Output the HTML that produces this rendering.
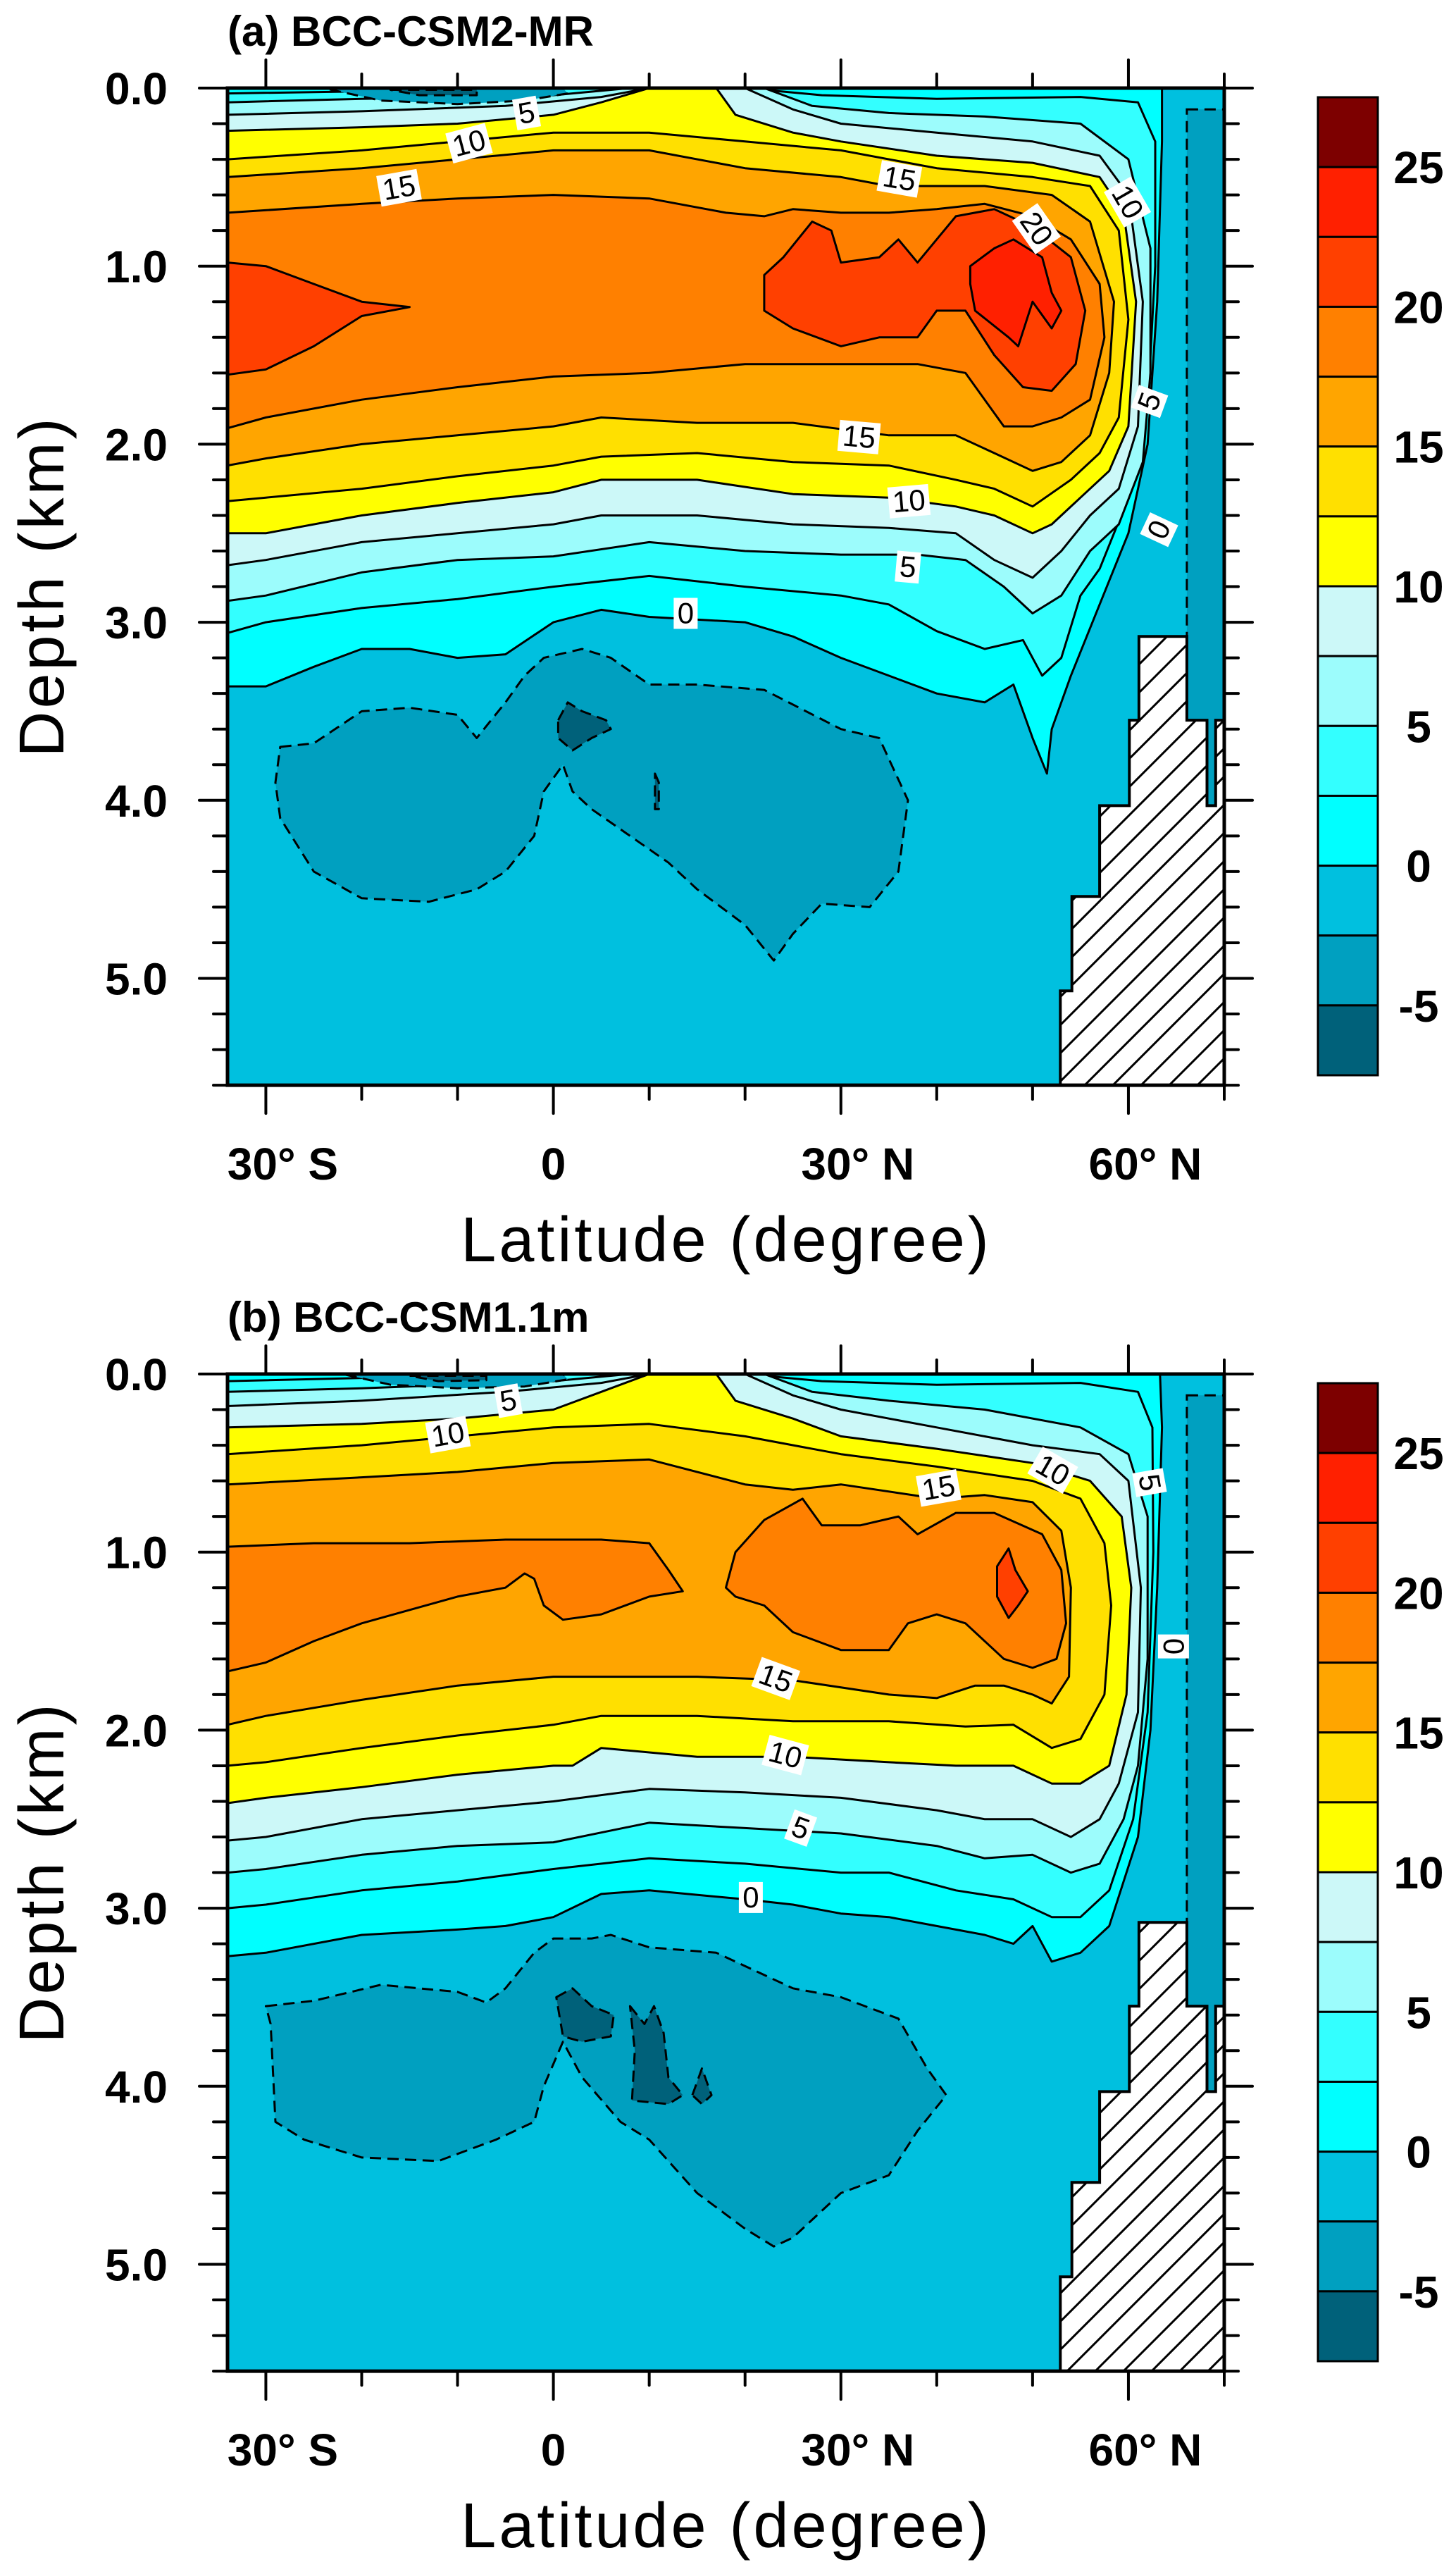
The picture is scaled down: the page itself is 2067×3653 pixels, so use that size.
<!DOCTYPE html>
<html><head><meta charset="utf-8">
<style>
html,body{margin:0;padding:0;background:#fff;}
svg{display:block;}
text{font-family:"Liberation Sans",sans-serif;}
</style></head>
<body>
<svg id="fig" width="2067" height="3653" viewBox="0 0 2067 3653" xmlns="http://www.w3.org/2000/svg">
<defs>
<pattern id="hatch" patternUnits="userSpaceOnUse" width="40" height="40" patternTransform="rotate(0)">
<rect width="40" height="40" fill="#fff"/>
<path d="M-10,10 L10,-10 M0,40 L40,0 M30,50 L50,30" stroke="#000" stroke-width="3"/>
</pattern>
</defs>
</svg>
<script>
// ---------- data ----------
const levels = [-7.5,-5,-2.5,0,2.5,5,7.5,10,12.5,15,17.5,20,22.5,25];
const colors = ["#00617a","#00a0c0","#00c0df","#00ffff","#33ffff","#9cfcfc","#ccf8f8","#ffff00","#ffe000","#ffa500","#ff8000","#ff4000","#ff2000","#7d0000"];
const cbLabels = [25,20,15,10,5,0,-5];
const depthTicks = [0,1,2,3,4,5];
const depthLabels = ["0.0","1.0","2.0","3.0","4.0","5.0"];
const latTicks = [-30,0,30,60];
const latLabels = ["30° S","0","30° N","60° N"];

// panel (a) contour regions: [lat, depth km]
const a0 = [[-34,0],[63.5,0],[63.5,0.3],[63,1.2],[62,2.0],[60,2.5],[57,2.9],[54,3.3],[52,3.6],[51.5,3.85],[50,3.65],[48,3.35],[45,3.45],[40,3.4],[35,3.3],[30,3.2],[25,3.08],[20,3.0],[10,2.97],[5,2.93],[0,3.0],[-5,3.18],[-10,3.2],[-15,3.15],[-20,3.15],[-25,3.25],[-30,3.36],[-34,3.36]];
const a25 = [[-34,0.03],[-10,0.01],[0,0],[20,0],[28,0.04],[40,0.06],[55,0.05],[61,0.08],[62.8,0.3],[62.8,1.0],[62,1.8],[60,2.3],[57,2.7],[55,2.85],[53,3.2],[51,3.3],[49,3.1],[45,3.15],[40,3.05],[35,2.9],[30,2.85],[20,2.8],[10,2.74],[0,2.8],[-10,2.87],[-20,2.92],[-30,3.0],[-34,3.06]];
const a5 = [[-34,0.08],[-20,0.06],[-5,0.05],[0,0.04],[8,0],[22,0],[27,0.1],[35,0.14],[45,0.16],[55,0.2],[60,0.4],[62.3,0.9],[62.3,1.6],[61.5,2.1],[59,2.45],[56,2.6],[53,2.85],[50,2.95],[47,2.8],[43,2.65],[38,2.62],[30,2.62],[20,2.6],[10,2.55],[0,2.63],[-10,2.65],[-20,2.72],[-30,2.85],[-34,2.88]];
const a75 = [[-34,0.15],[-20,0.13],[-5,0.1],[5,0.05],[10,0],[20,0],[25,0.12],[30,0.2],[40,0.25],[50,0.3],[57,0.38],[60,0.6],[61.5,1.2],[61,1.9],[59,2.25],[56,2.4],[53,2.6],[50,2.75],[46,2.65],[42,2.5],[35,2.47],[25,2.45],[15,2.4],[5,2.4],[0,2.45],[-10,2.5],[-20,2.55],[-30,2.65],[-34,2.68]];
const a10 = [[-34,0.24],[-20,0.22],[-10,0.2],[0,0.15],[5,0.08],[10,0],[17,0],[19,0.15],[25,0.25],[30,0.3],[40,0.38],[50,0.42],[57,0.5],[59.5,0.7],[60.8,1.2],[60,1.9],[58,2.15],[55,2.3],[52,2.45],[50,2.5],[46,2.4],[42,2.35],[35,2.3],[25,2.28],[15,2.2],[5,2.2],[0,2.27],[-10,2.33],[-20,2.4],[-30,2.5],[-34,2.5]];
const a125 = [[-34,0.4],[-20,0.35],[-10,0.3],[0,0.25],[10,0.25],[20,0.3],[30,0.35],[40,0.45],[50,0.5],[56,0.55],[59,0.8],[60,1.3],[59,1.85],[57,2.05],[54,2.2],[50,2.35],[46,2.25],[42,2.2],[35,2.12],[25,2.1],[15,2.05],[5,2.07],[0,2.12],[-10,2.18],[-20,2.25],[-30,2.3],[-34,2.32]];
const a15 = [[-34,0.5],[-20,0.45],[-10,0.4],[0,0.35],[10,0.35],[20,0.45],[30,0.5],[35,0.55],[45,0.55],[52,0.6],[56,0.75],[58.5,1.2],[58,1.6],[56,1.95],[53,2.1],[50,2.15],[46,2.05],[42,1.95],[35,1.95],[25,1.88],[15,1.88],[5,1.85],[0,1.9],[-10,1.95],[-20,2.0],[-30,2.08],[-34,2.12]];
const a175 = [[-34,0.7],[-20,0.65],[-10,0.62],[0,0.6],[10,0.62],[18,0.7],[22,0.72],[25,0.68],[30,0.7],[35,0.7],[40,0.68],[45,0.65],[50,0.72],[54,0.85],[57,1.1],[57.5,1.4],[56,1.75],[53,1.85],[50,1.9],[47,1.9],[43,1.6],[38,1.55],[30,1.55],[20,1.55],[10,1.6],[0,1.62],[-10,1.68],[-20,1.75],[-30,1.85],[-34,1.91]];
const a20left = [[-34,0.98],[-30,1.0],[-25,1.1],[-20,1.2],[-15,1.23],[-20,1.28],[-25,1.45],[-30,1.58],[-34,1.61]];
const a20main = [[22,1.05],[24,0.95],[27,0.75],[29,0.8],[30,0.98],[34,0.95],[36,0.85],[38,0.98],[42,0.72],[46,0.68],[50,0.78],[54,0.95],[55.5,1.25],[54.5,1.55],[52,1.7],[49,1.68],[46,1.5],[43,1.25],[40,1.25],[38,1.4],[34,1.4],[30,1.45],[25,1.35],[22,1.25]];
const a225 = [[43.5,1.0],[46,0.9],[48,0.85],[51,0.95],[52,1.15],[53,1.25],[52,1.35],[50,1.2],[48.5,1.45],[47.5,1.4],[44,1.25],[43.5,1.1]];
const aNeg = [[-28.5,3.7],[-25,3.68],[-20,3.5],[-15,3.48],[-10,3.52],[-8,3.65],[-5,3.45],[-3,3.3],[-1,3.2],[3,3.15],[6,3.2],[10,3.35],[15,3.35],[22,3.38],[30,3.6],[34,3.65],[37,4.0],[36,4.4],[33,4.6],[28,4.58],[25,4.75],[23,4.9],[20,4.7],[15,4.5],[12,4.35],[8,4.2],[4,4.05],[2,3.95],[1,3.8],[-1,3.95],[-2,4.2],[-5,4.4],[-8,4.5],[-13,4.57],[-20,4.55],[-25,4.4],[-28.5,4.1],[-29,3.9]];
const aNegSurf = [[-24,0],[1,0],[1.5,0.03],[-3,0.07],[-10,0.09],[-18,0.07]];
const aDark1 = [[0.5,3.55],[1.5,3.45],[3,3.5],[5.5,3.55],[6,3.6],[4,3.65],[2,3.72],[0.5,3.65]];
const aDark2 = [[10.6,3.85],[11,3.9],[11,4.05],[10.6,4.05]];
const aDarkSurf = [[-17,0.01],[-8,0.01],[-8,0.04],[-14,0.04]];

// panel (b) contour regions
const b0 = [[-34,0],[63.3,0],[63.5,0.3],[63,1.2],[62.3,2.0],[61,2.6],[58,3.1],[55,3.25],[52,3.3],[50,3.1],[48,3.2],[45,3.15],[40,3.1],[35,3.05],[30,3.03],[25,2.98],[20,2.95],[10,2.9],[5,2.92],[0,3.05],[-5,3.1],[-10,3.12],[-20,3.15],[-30,3.25],[-34,3.27]];
const b25 = [[-34,0.04],[-10,0.01],[0,0],[20,0],[28,0.04],[40,0.06],[55,0.05],[61,0.1],[62.5,0.3],[62.6,1.0],[62,1.9],[60.5,2.5],[58,2.9],[55,3.05],[52,3.05],[48,2.95],[42,2.9],[35,2.8],[30,2.8],[20,2.75],[10,2.72],[0,2.78],[-10,2.85],[-20,2.9],[-30,2.98],[-34,3.0]];
const b5 = [[-34,0.1],[-20,0.08],[-5,0.05],[0,0.04],[8,0],[22,0],[27,0.1],[35,0.15],[45,0.2],[55,0.3],[60,0.45],[62,0.8],[62,1.6],[61,2.2],[59.5,2.5],[57,2.75],[54,2.8],[50,2.7],[45,2.72],[40,2.65],[30,2.58],[20,2.55],[10,2.52],[0,2.63],[-10,2.65],[-20,2.7],[-30,2.78],[-34,2.8]];
const b75 = [[-34,0.18],[-20,0.15],[-5,0.1],[5,0.05],[10,0],[20,0],[25,0.12],[30,0.2],[40,0.3],[50,0.4],[57,0.45],[60,0.6],[61.3,1.2],[61,1.9],[59,2.3],[57,2.5],[54,2.6],[50,2.5],[45,2.5],[40,2.45],[30,2.38],[20,2.35],[10,2.33],[0,2.4],[-10,2.45],[-20,2.5],[-30,2.6],[-34,2.62]];
const b10 = [[-34,0.3],[-20,0.28],[-10,0.25],[0,0.2],[5,0.1],[10,0],[17,0],[19,0.15],[25,0.25],[30,0.35],[40,0.42],[50,0.5],[56,0.6],[59.3,0.8],[60.3,1.2],[59.8,1.8],[58,2.2],[55,2.3],[52,2.3],[48,2.2],[42,2.2],[35,2.18],[25,2.15],[15,2.15],[5,2.1],[2,2.2],[0,2.2],[-10,2.25],[-20,2.32],[-30,2.38],[-34,2.41]];
const b125 = [[-34,0.45],[-20,0.4],[-10,0.35],[0,0.3],[10,0.28],[20,0.35],[30,0.45],[40,0.52],[50,0.6],[55,0.7],[57.5,0.95],[58.2,1.3],[57.5,1.8],[55,2.05],[52,2.1],[48,1.97],[43,1.98],[35,1.95],[25,1.95],[15,1.92],[5,1.92],[0,1.97],[-10,2.03],[-20,2.1],[-30,2.18],[-34,2.2]];
const b15 = [[-34,0.62],[-20,0.58],[-10,0.55],[0,0.5],[10,0.48],[20,0.62],[25,0.65],[30,0.62],[40,0.7],[45,0.68],[50,0.72],[53,0.88],[54,1.2],[53.8,1.7],[52,1.85],[50,1.8],[47,1.75],[44,1.75],[40,1.82],[35,1.8],[25,1.72],[15,1.7],[5,1.7],[0,1.7],[-10,1.75],[-20,1.83],[-30,1.92],[-34,1.97]];
const b175left = [[-34,0.97],[-25,0.95],[-15,0.95],[-5,0.93],[5,0.93],[10,0.95],[12,1.1],[13.5,1.22],[10,1.25],[5,1.35],[1,1.38],[-1,1.3],[-2,1.15],[-3,1.12],[-5,1.2],[-10,1.25],[-20,1.4],[-25,1.5],[-30,1.62],[-34,1.67]];
const b175right = [[18,1.2],[19,1.0],[22,0.82],[26,0.7],[28,0.85],[32,0.85],[36,0.8],[38,0.9],[42,0.78],[46,0.78],[51,0.9],[53,1.1],[53.5,1.4],[52.5,1.6],[50,1.65],[47,1.6],[43,1.4],[40,1.35],[37,1.4],[35,1.55],[30,1.55],[25,1.45],[22,1.3],[19,1.25]];
const b20 = [[46.3,1.08],[47.5,0.98],[48.2,1.1],[49.5,1.22],[48.5,1.3],[47.5,1.37],[46.3,1.25]];
const bNeg = [[-30,3.55],[-25,3.52],[-18,3.43],[-10,3.47],[-7,3.53],[-5,3.45],[-2,3.25],[0,3.17],[4,3.17],[6,3.15],[10,3.22],[17,3.25],[25,3.45],[30,3.5],[36,3.62],[39,3.9],[41,4.05],[38,4.25],[35,4.5],[30,4.6],[25,4.85],[23,4.9],[20,4.8],[15,4.6],[10,4.3],[7,4.2],[3,3.95],[1,3.75],[-1,4.0],[-2,4.2],[-6,4.3],[-12,4.42],[-20,4.4],[-26,4.3],[-29,4.2],[-29.5,3.65]];
const bNegSurf = [[-22,0],[1,0],[1.5,0.03],[-3,0.07],[-10,0.08],[-17,0.06]];
const bDark1 = [[0.3,3.5],[2,3.45],[4,3.55],[6.3,3.6],[6,3.72],[3,3.75],[1,3.72]];
const bDark2 = [[8,3.55],[9.5,3.65],[10.5,3.55],[11.5,3.7],[12,3.95],[13.5,4.05],[12,4.1],[8.2,4.08],[8.5,3.8]];
const bDark3 = [[14.5,4.05],[15.5,3.9],[16.5,4.05],[15.5,4.1]];
const bDarkSurf = [[-15,0.01],[-7,0.01],[-7,0.035],[-12,0.04]];

const eastColumn = [[66.1,0.12],[70,0.12],[70,3.55],[69.1,3.55],[69.1,4.03],[68.2,4.03],[68.2,3.55],[66.1,3.55]];
const landMask = [[52.9,5.6],[52.9,5.07],[54.1,5.07],[54.1,4.54],[57,4.54],[57,4.03],[60.1,4.03],[60.1,3.55],[61.1,3.55],[61.1,3.08],[66.1,3.08],[66.1,3.55],[68.2,3.55],[68.2,4.03],[69.1,4.03],[69.1,3.55],[70,3.55],[70,5.6]];

const aLabels = [["5",-2.8,0.14,-10],["10",-8.8,0.31,-15],["15",-16.1,0.56,-10],["15",36.1,0.51,10],["20",50.4,0.79,55],["10",59.9,0.64,60],["15",31.9,1.96,5],["10",37.1,2.32,-5],["5",37,2.69,5],["0",13.8,2.95,0],["5",62.2,1.76,-70],["0",63.2,2.48,-65]];
const bLabels = [["5",-4.7,0.15,-10],["10",-11,0.34,-10],["10",52.1,0.54,30],["15",40.2,0.64,-10],["5",62.2,0.61,80],["0",64.7,1.53,90],["15",23.2,1.71,20],["10",24.2,2.14,15],["5",25.8,2.55,20],["0",20.6,2.94,0]];

// ---------- drawing ----------
const NS = "http://www.w3.org/2000/svg";
const svg = document.getElementById('fig');
const LEFT = 323, RIGHT = 1738, LAT0 = -34, LAT1 = 70, DMAX = 5.6, KM = 252.7;
function X(lat){ return LEFT + (lat - LAT0) * (RIGHT - LEFT) / (LAT1 - LAT0); }
function mk(tag, attrs, parent){
  const e = document.createElementNS(NS, tag);
  for (const k in attrs) e.setAttribute(k, attrs[k]);
  parent.appendChild(e);
  return e;
}
function colorOf(level){ return colors[levels.indexOf(level)]; }

function drawPanel(p){
  const top = p.top, Y = d => top + d * KM, bottom = Y(DMAX);
  const g = mk('g', {}, svg);
  
  
  const clipId = 'clip-' + p.id;
  const cp = mk('clipPath', {id: clipId}, g);
  mk('rect', {x: LEFT, y: top, width: RIGHT - LEFT, height: bottom - top}, cp);
  const plot = mk('g', {'clip-path': 'url(#' + clipId + ')'}, g);
  
  
  const bg = mk('rect', {x: LEFT, y: top, width: RIGHT - LEFT, height: bottom - top, fill: colorOf(-2.5)}, plot);
  
  
  const pts = arr => arr.map(q => X(q[0]).toFixed(1) + ',' + Y(q[1]).toFixed(1)).join(' ');
  p.regions.forEach(r => {
    const poly = mk('polygon', {points: pts(r.pts), fill: colorOf(r.level), stroke: '#000', 'stroke-width': 3, 'stroke-linejoin': 'round', 'stroke-dasharray': r.level < 0 ? '16 9' : 'none'}, plot);
    
    
  });
  const col = mk('polygon', {points: pts(eastColumn), fill: colorOf(-5), stroke: '#000', 'stroke-width': 3, 'stroke-dasharray': '16 9'}, plot);
  
  
  const land = mk('polygon', {points: pts(landMask), fill: 'url(#hatch)', stroke: '#000', 'stroke-width': 4}, plot);
  
  
  p.labels.forEach(l => {
    const lg = mk('g', {transform: 'translate(' + X(l[1]).toFixed(1) + ',' + Y(l[2]).toFixed(1) + ') rotate(' + l[3] + ')'}, plot);
    
    
    const w = l[0].length * 24 + 10;
    mk('rect', {x: -w / 2, y: -22, width: w, height: 44, fill: '#fff'}, lg);
    const t = mk('text', {x: 0, y: 14, 'text-anchor': 'middle', 'font-size': 42}, lg);
    t.textContent = l[0];
  });
  // frame
  const frame = mk('rect', {x: LEFT, y: top, width: RIGHT - LEFT, height: bottom - top, fill: 'none', stroke: '#000', 'stroke-width': 5}, g);
  
  
  // ticks
  const tk = mk('g', {stroke: '#000', 'stroke-width': 4, 'stroke-linecap': 'round'}, g);
  
  
  for (let lat = -30; lat <= 70; lat += 10) {
    const len = latTicks.includes(lat) ? 40 : 20, x = X(lat);
    mk('line', {x1: x, y1: bottom, x2: x, y2: bottom + len}, tk);
    mk('line', {x1: x, y1: top, x2: x, y2: top - len}, tk);
  }
  for (let i = 0; i <= 28; i++) {
    const d = i * 0.2, y = Y(d), len = (i % 5 === 0) ? 40 : 20;
    mk('line', {x1: LEFT, y1: y, x2: LEFT - len, y2: y}, tk);
    mk('line', {x1: RIGHT, y1: y, x2: RIGHT + len, y2: y}, tk);
  }
  depthTicks.forEach((d, i) => {
    const t = mk('text', {x: 238, y: Y(d) + 23, 'text-anchor': 'end', 'font-size': 64, 'font-weight': 'bold'}, g);
    
    
    t.textContent = depthLabels[i];
  });
  latTicks.forEach((lat, i) => {
    const off = i === 1 ? 0 : 24;
    const t = mk('text', {x: X(lat) + off, y: bottom + 134, 'text-anchor': 'middle', 'font-size': 64, 'font-weight': 'bold'}, g);
    
    
    t.textContent = latLabels[i];
  });
  const xt = mk('text', {x: 1031, y: bottom + 250, 'text-anchor': 'middle', 'font-size': 90, 'letter-spacing': 4}, g);
  
  
  xt.textContent = 'Latitude (degree)';
  const yt = mk('text', {x: 0, y: 0, 'text-anchor': 'middle', 'font-size': 90, 'letter-spacing': 4, transform: 'translate(90,' + (top + 707) + ') rotate(-90)'}, g);
  
  
  yt.textContent = 'Depth (km)';
  const title = mk('text', {x: 323, y: top - 60, 'font-size': 60, 'font-weight': 'bold'}, g);
  
  
  title.textContent = p.title;
  // colorbar
  const cb = mk('g', {}, g);
  
  
  const cbTop = top + 13, cbBot = top + 1401, cbX = 1871, cbW = 85, n = colors.length, h = (cbBot - cbTop) / n;
  for (let i = 0; i < n; i++) {
    const r = mk('rect', {x: cbX, y: cbTop + i * h, width: cbW, height: h, fill: colors[n - 1 - i], stroke: '#000', 'stroke-width': 3}, cb);
    
    
  }
  cbLabels.forEach(v => {
    const idx = (27.5 - v) / 2.5;
    const t = mk('text', {x: 2014, y: cbTop + idx * h + 23, 'text-anchor': 'middle', 'font-size': 64, 'font-weight': 'bold'}, cb);
    
    
    t.textContent = String(v);
  });
}

drawPanel({id: 'a', top: 125, title: '(a) BCC-CSM2-MR', labels: aLabels, regions: [
  {level: 0, pts: a0}, {level: 2.5, pts: a25}, {level: 5, pts: a5}, {level: 7.5, pts: a75},
  {level: 10, pts: a10}, {level: 12.5, pts: a125}, {level: 15, pts: a15}, {level: 17.5, pts: a175},
  {level: 20, pts: a20left}, {level: 20, pts: a20main}, {level: 22.5, pts: a225},
  {level: -5, pts: aNeg}, {level: -5, pts: aNegSurf}, {level: -7.5, pts: aDark1}, {level: -7.5, pts: aDark2}, {level: -7.5, pts: aDarkSurf}
]});
drawPanel({id: 'b', top: 1950, title: '(b) BCC-CSM1.1m', labels: bLabels, regions: [
  {level: 0, pts: b0}, {level: 2.5, pts: b25}, {level: 5, pts: b5}, {level: 7.5, pts: b75},
  {level: 10, pts: b10}, {level: 12.5, pts: b125}, {level: 15, pts: b15}, {level: 17.5, pts: b175left},
  {level: 17.5, pts: b175right}, {level: 20, pts: b20},
  {level: -5, pts: bNeg}, {level: -5, pts: bNegSurf}, {level: -7.5, pts: bDark1}, {level: -7.5, pts: bDark2}, {level: -7.5, pts: bDark3}, {level: -7.5, pts: bDarkSurf}
]});
</script>
</body></html>
